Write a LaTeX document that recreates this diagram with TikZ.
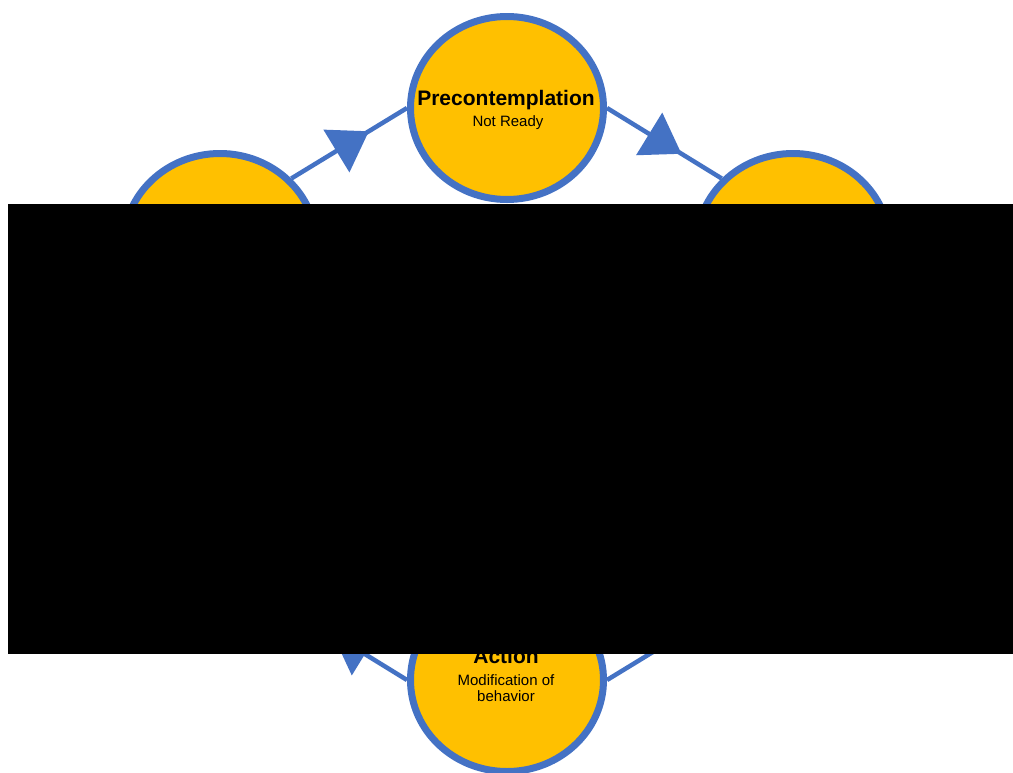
\documentclass[tikz,border=0pt]{standalone}
\usepackage{fontspec}
\setmainfont{Liberation Sans}
\usetikzlibrary{shapes.geometric,arrows.meta,decorations.markings}
\definecolor{cblue}{HTML}{4472C4}
\definecolor{cyellow}{HTML}{FFC000}
\tikzset{
  stage/.style={ellipse, draw=cblue, fill=cyellow, line width=7pt,
    minimum width=193pt, minimum height=183pt, inner sep=0pt},
  helper/.style={stage, draw=none, fill=none},
  flow/.style={draw=cblue, line width=4.5pt, postaction={decorate},
    decoration={markings, mark=at position #1 with
      {\arrow[cblue]{Triangle[length=38pt,width=49pt]}}}},
  flow/.default=0.65,
  ttl/.style={anchor=base, inner sep=0pt, font=\fontsize{21}{25}\selectfont\bfseries},
  sub/.style={anchor=base, inner sep=0pt, font=\fontsize{15}{18}\selectfont},
}
\begin{document}
\begin{tikzpicture}[x=1pt,y=-1pt]
\useasboundingbox (0,0) rectangle (1013,772);
% positions of the circles
\coordinate (ctop) at (507,108);
\coordinate (cleft) at (220,245);
\coordinate (cright) at (793,245);
\coordinate (cbot) at (507,680);
\coordinate (llend) at (292.5,609.5);
\coordinate (lrend) at (722.5,609.5);
% invisible helper nodes for line end points
\node[helper] (left0) at (cleft) {};
\node[helper] (right0) at (cright) {};
\node[helper] (top0) at (ctop) {};
\node[helper] (bot0) at (cbot) {};
% connectors
\draw[flow=0.67] (left0.43) -- (top0.west);
\draw[flow=0.65] (top0.east) -- (right0.137);
\draw[flow=0.65] (bot0.west) -- (llend);
\draw[flow=0.45] (lrend) -- (bot0.east);
% circles
\node[stage] (top) at (ctop) {};
\node[stage] (left) at (cleft) {};
\node[stage] (right) at (cright) {};
\node[stage] (bot) at (cbot) {};
% texts
\node[ttl] (t1) at (506,105) {Precontemplation};
\node[sub] (s1) at (508,126) {Not Ready};
\node[ttl] (t4) at (506,663) {Action};
\node[sub] (s4a) at (506,685) {Modification of};
\node[sub] (s4b) at (506,701) {behavior};
% black box
\fill[black] (8,204) rectangle (1013,654);
\end{tikzpicture}
\end{document}
